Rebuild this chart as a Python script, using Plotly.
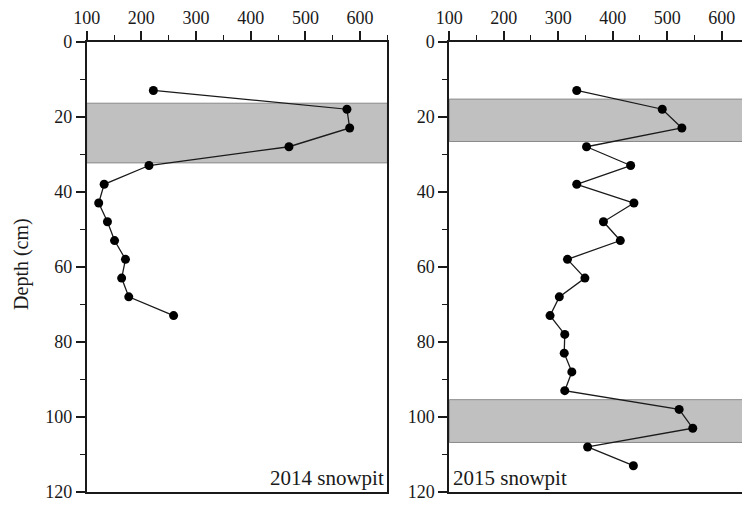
import plotly.graph_objects as go

# Snow pit profiles: value vs depth
depth_2014 = [13, 18, 23, 28, 33, 38, 43, 48, 53, 58, 63, 68, 73]
value_2014 = [222, 576, 581, 470, 214, 132, 122, 138, 151, 171, 164, 177, 259]

depth_2015 = [13, 18, 23, 28, 33, 38, 43, 48, 53, 58, 63, 68, 73,
              78, 83, 88, 93, 98, 103, 108, 113]
value_2015 = [334, 491, 527, 352, 433, 334, 439, 383, 414, 317, 349, 302, 285,
              312, 311, 325, 312, 522, 547, 354, 438]

# Shaded depth layers (top, bottom) in cm
bands_2014 = [(16.4, 32.3)]
bands_2015 = [(15.3, 26.6), (95.4, 106.8)]

FONT = "Liberation Serif, Times New Roman, serif"
INK = "#1a1a1a"

fig = go.Figure()

line_style = dict(color=INK, width=1.3)
marker_style = dict(color="black", size=9)

fig.add_trace(go.Scatter(x=value_2014, y=depth_2014, mode="lines+markers",
                         line=line_style, marker=marker_style,
                         xaxis="x", yaxis="y", showlegend=False))
fig.add_trace(go.Scatter(x=value_2015, y=depth_2015, mode="lines+markers",
                         line=line_style, marker=marker_style,
                         xaxis="x2", yaxis="y2", showlegend=False))

shapes = []
for top, bot in bands_2014:
    shapes.append(dict(type="rect", xref="x domain", yref="y", x0=0, x1=1,
                       y0=top, y1=bot, fillcolor="#c0c0c0",
                       line=dict(color="#8a8a8a", width=1), layer="below"))
for top, bot in bands_2015:
    shapes.append(dict(type="rect", xref="x2 domain", yref="y2", x0=0, x1=1.01,
                       y0=top, y1=bot, fillcolor="#c0c0c0",
                       line=dict(color="#8a8a8a", width=1), layer="below"))

tickfont = dict(family=FONT, size=18, color=INK)

def xaxis(domain, rng, mirror):
    return dict(domain=domain, range=rng, side="top", showgrid=False,
                zeroline=False, showline=True, linecolor=INK, linewidth=1.8,
                mirror=mirror, ticks="outside", ticklen=9, tickwidth=1.5,
                tickcolor=INK, tick0=100, dtick=100, tickfont=tickfont,
                minor=dict(ticks="outside", ticklen=5, tickwidth=1.3,
                           tickcolor=INK, dtick=50, tick0=100))

def yaxis(anchor, mirror):
    return dict(domain=[0.0296, 0.9178], range=[120, 0], anchor=anchor,
                showgrid=False, zeroline=False, showline=True, linecolor=INK,
                linewidth=1.8, mirror=mirror, ticks="outside", ticklen=9,
                tickwidth=1.5, tickcolor=INK, tick0=0, dtick=20,
                tickfont=tickfont,
                minor=dict(ticks="outside", ticklen=5, tickwidth=1.3,
                           tickcolor=INK, dtick=10, tick0=0))

fig.update_layout(
    width=742, height=507,
    margin=dict(l=0, r=0, t=0, b=0, autoexpand=False),
    paper_bgcolor="white", plot_bgcolor="white",
    font=dict(family=FONT, color=INK),
    xaxis=dict(xaxis([0.1168, 0.5221], [100, 650], True), anchor="y"),
    yaxis=yaxis("x", True),
    xaxis2=dict(xaxis([0.6055, 1.0], [100, 637.4], True), anchor="y2"),
    yaxis2=yaxis("x2", False),
    shapes=shapes,
    annotations=[
        dict(text="Depth (cm)", textangle=-90, x=0.028, y=0.479,
             xref="paper", yref="paper", xanchor="center", yanchor="middle",
             showarrow=False, font=dict(family=FONT, size=20, color=INK)),
        dict(text="2014 snowpit", x=0.995, y=0.0, xref="x domain",
             yref="y domain", xanchor="right", yanchor="bottom",
             showarrow=False, font=dict(family=FONT, size=21, color=INK)),
        dict(text="2015 snowpit", x=0.005, y=0.0, xref="x2 domain",
             yref="y2 domain", xanchor="left", yanchor="bottom",
             showarrow=False, font=dict(family=FONT, size=21, color=INK)),
    ],
)

fig.write_html("out.html")
